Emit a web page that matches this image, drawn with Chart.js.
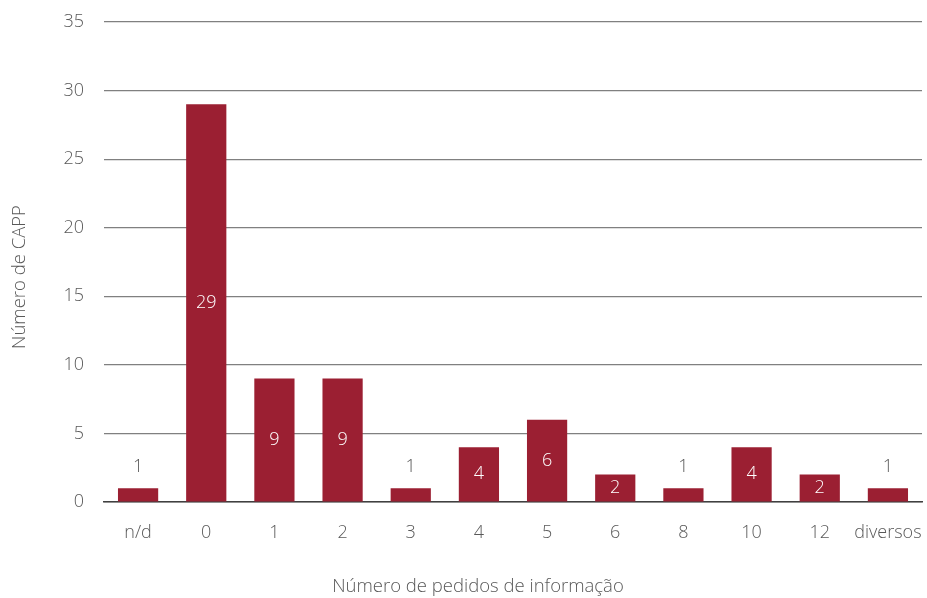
<!DOCTYPE html>
<html>
<head>
<meta charset="utf-8">
<script src="https://cdn.jsdelivr.net/npm/chart.js@4/dist/chart.umd.min.js"></script>
<style>
html,body{margin:0;padding:0;background:#fff;}
#wrap{width:927px;height:598px;}
</style>
</head>
<body>
<div id="wrap"><canvas id="c" width="927" height="598"></canvas></div>
<script>
const categories = ['n/d','0','1','2','3','4','5','6','8','10','12','diversos'];
const values = [1,29,9,9,1,4,6,2,1,4,2,1];
const yTicks = [0,5,10,15,20,25,30,35];
const xTitle = 'Número de pedidos de informação';
const yTitle = 'Número de CAPP';

const FONT = "'Open Sans', 'Noto Sans', sans-serif";
const labelPlugin = {
  id: 'valueLabels',
  afterDatasetsDraw(chart) {
    const ctx = chart.ctx;
    const meta = chart.getDatasetMeta(0);
    ctx.save();
    ctx.font = '300 18px ' + FONT;
    ctx.textAlign = 'center';
    ctx.textBaseline = 'middle';
    meta.data.forEach((bar, i) => {
      const v = values[i];
      const h = bar.base - bar.y;
      if (h < 24) {
        ctx.fillStyle = '#595959';
        ctx.fillText(String(v), bar.x, bar.y - 21);
      } else {
        ctx.fillStyle = '#ffffff';
        ctx.fillText(String(v), bar.x, (bar.y + bar.base) / 2);
      }
    });
    ctx.restore();
  }
};
const titlePlugin = {
  id: 'axisTitles',
  afterDraw(chart) {
    const ctx = chart.ctx;
    const area = chart.chartArea;
    ctx.save();
    ctx.font = '300 18.5px ' + FONT;
    ctx.fillStyle = '#595959';
    ctx.textAlign = 'center';
    ctx.textBaseline = 'middle';
    ctx.fillText(xTitle, (area.left + area.right) / 2 - 35, 587);
    ctx.translate(20, (area.top + area.bottom) / 2 + 15);
    ctx.rotate(-Math.PI / 2);
    ctx.fillText(yTitle, 0, 0);
    ctx.restore();
  }
};

new Chart(document.getElementById('c'), {
  type: 'bar',
  data: {
    labels: categories,
    datasets: [{
      data: values,
      backgroundColor: '#9b1f32',
      barPercentage: 0.59,
      categoryPercentage: 1.0
    }]
  },
  options: {
    responsive: false,
    animation: false,
    devicePixelRatio: 1,
    layout: { padding: { left: 10, right: 5, top: 22, bottom: 0 } },
    plugins: { legend: { display: false }, tooltip: { enabled: false } },
    scales: {
      x: {
        afterFit(scale) { scale.paddingRight = 0; scale.height = 96; },
        grid: { display: false, drawTicks: false },
        border: { display: true, color: '#404040', width: 1.5 },
        ticks: { color: '#595959', font: { family: FONT, size: 18, weight: '300' }, padding: 20, maxRotation: 0, minRotation: 0, autoSkip: false },
        title: { display: false }
      },
      y: {
        min: 0, max: 35,
        afterFit(scale) { scale.paddingTop = 0; scale.width = 94; },
        afterBuildTicks(axis) { axis.ticks = yTicks.map(v => ({ value: v })); },
        grid: { color: '#808080', lineWidth: 1.2, drawTicks: false },
        border: { display: false },
        ticks: { color: '#595959', font: { family: FONT, size: 18, weight: '300' }, padding: 20 },
        title: { display: false }
      }
    }
  },
  plugins: [labelPlugin, titlePlugin]
});
</script>
</body>
</html>
